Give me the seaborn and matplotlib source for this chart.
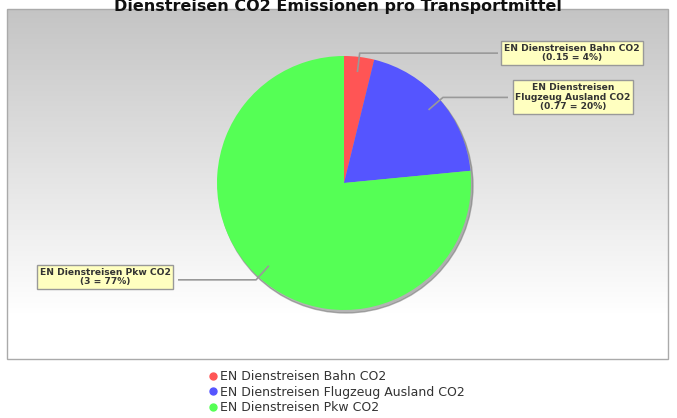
import numpy as np
import seaborn as sns
import matplotlib.pyplot as plt
from matplotlib.lines import Line2D
from matplotlib.patches import Circle, Rectangle

# data
names = ["EN Dienstreisen Bahn CO2",
         "EN Dienstreisen Flugzeug Ausland CO2",
         "EN Dienstreisen Pkw CO2"]
box_names = ["EN Dienstreisen Bahn CO2",
             "EN Dienstreisen\nFlugzeug Ausland CO2",
             "EN Dienstreisen Pkw CO2"]
values = [0.15, 0.77, 3]
colors = sns.color_palette(["#ff5555", "#5555ff", "#55ff55"])

sns.set_theme(style="white")
plt.rcParams['font.family'] = ['DejaVu Sans']

W, H = 677, 418
fig = plt.figure(figsize=(W / 100, H / 100), dpi=100)
ax = fig.add_axes([0, 0, 1, 1])

# plot area with gradient background
px0, px1, py_top, py_bot = 7, 668, 9, 359
grad = np.linspace(0, 1, 256).reshape(-1, 1)
grad = np.clip(grad * 1.15, 0, 1)
top_col = np.array([0.77, 0.77, 0.77])
img = top_col + (1 - top_col) * grad[..., None]
img = np.repeat(img, 2, axis=1)
ax.imshow(img, extent=(px0, px1, H - py_bot, H - py_top), origin='upper',
          aspect='auto', zorder=0)
ax.add_patch(Rectangle((px0, H - py_bot), px1 - px0, py_bot - py_top,
                       fill=False, edgecolor='#aaaaaa', lw=1, zorder=1))

# pie
cx, cy, r = 344, H - 183, 127
ax.add_patch(Circle((cx + 2, cy - 3), r, color='#777777', alpha=0.55, zorder=2))
wedges, _ = ax.pie(values, colors=colors, startangle=90, counterclock=False,
                   center=(cx, cy), radius=r, frame=True,
                   wedgeprops=dict(linewidth=0, zorder=3))
ax.set_xlim(0, W)
ax.set_ylim(0, H)
ax.set_aspect('equal')
ax.axis('off')

total = sum(values)
box_pos = [(572, H - 53), (573, H - 97), (105, H - 277)]
edge_x = [498, 508, 178]
for w, v, nm, (bx, by), ex in zip(wedges, values, box_names, box_pos, edge_x):
    ang = np.deg2rad((w.theta1 + w.theta2) / 2)
    x_in, y_in = cx + 0.88 * r * np.cos(ang), cy + 0.88 * r * np.sin(ang)
    x_out, y_out = cx + 1.03 * r * np.cos(ang), cy + 1.03 * r * np.sin(ang)
    ax.plot([x_in, x_out, ex], [y_in, y_out, y_out], color='#999999', lw=1.2,
            zorder=4, solid_capstyle='butt')
    ax.text(bx, by, f"{nm}\n({v:g} = {v / total:.0%})", ha='center',
            va='center', fontsize=6.6, fontweight='bold', color='#333333',
            linespacing=1.05, zorder=6,
            bbox=dict(boxstyle='square,pad=0.3', fc='#ffffc0',
                      ec='#999999', lw=1))

# title (cut off at top)
fig.text(338 / W, 1 - 11 / H, "Dienstreisen CO2 Emissionen pro Transportmittel",
         ha='center', va='baseline', fontsize=11.5, fontweight='bold',
         color='#111111')

# legend
handles = [Line2D([], [], marker='o', ls='', color=c, markersize=5)
           for c in colors]
fig.legend(handles, names, loc='upper left',
           bbox_to_anchor=(200 / W, 1 - 364 / H), frameon=False,
           fontsize=9, labelspacing=0.2, handletextpad=0.1,
           handlelength=1.0, borderpad=0, labelcolor='#333333')

fig.savefig("out.png", dpi=100)
